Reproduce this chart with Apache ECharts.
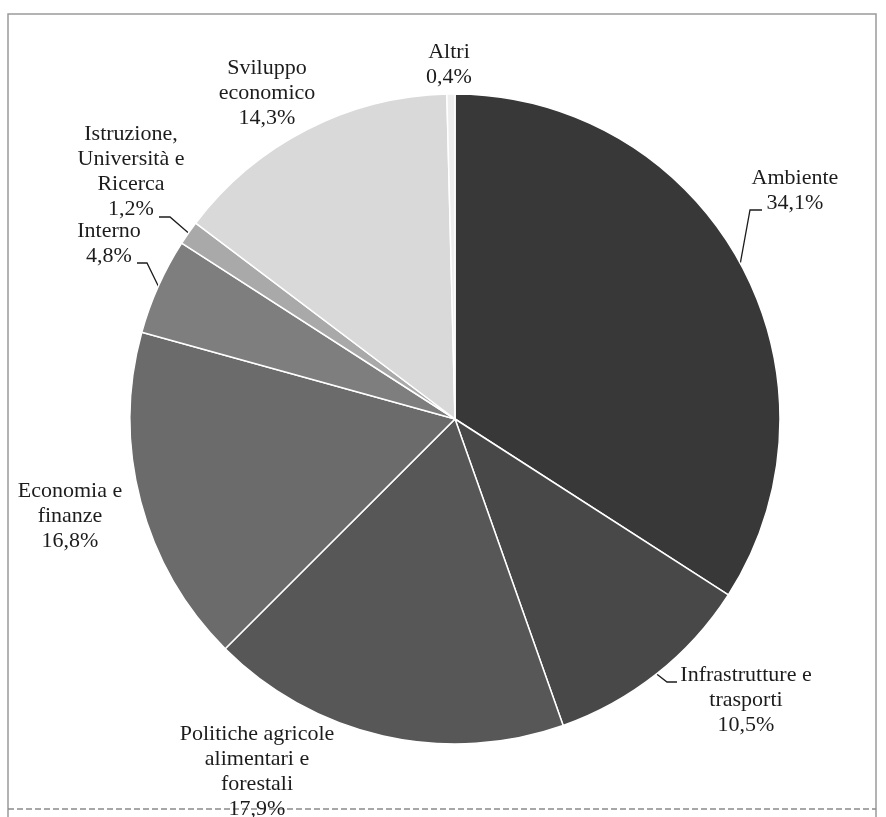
<!DOCTYPE html>
<html>
<head>
<meta charset="utf-8">
<script src="https://cdn.jsdelivr.net/npm/echarts@6/dist/echarts.min.js"></script>
<style>
  html, body { margin: 0; padding: 0; background: #fff; }
  #chart { width: 886px; height: 817px; }
</style>
</head>
<body>
<div id="chart"></div>
<script>
// data, clockwise from 12 o'clock
const categories = [
  'Ambiente',
  'Infrastrutture e\ntrasporti',
  'Politiche agricole\nalimentari e\nforestali',
  'Economia e\nfinanze',
  'Interno',
  'Istruzione,\nUniversità e\nRicerca',
  'Sviluppo\neconomico',
  'Altri'
];
const shares = [34.1, 10.5, 17.9, 16.8, 4.8, 1.2, 14.3, 0.4];
const sliceColors = ['#383838', '#484848', '#575757', '#6b6b6b', '#7e7e7e', '#a9a9a9', '#d9d9d9', '#eeeeee'];

// label anchors (centre of each text block) and leader elbows
const labelPos = [[795, 191], [746, 700], [257, 772], [70, 516], [109, 244], [131, 172], [267, 93], [449, 65]];
const leaders = {
  0: [[750, 210], [762, 210]],
  1: [[667, 682], [677, 682]],
  4: [[147, 263], [137, 263]],
  5: [[170, 217], [159, 217]]
};

const fmt = v => v.toFixed(1).replace('.', ',') + '%';

const myChart = echarts.init(document.getElementById('chart'));

const option = {
  animation: false,
  graphic: [
    {
      type: 'polyline',
      shape: { points: [[8, 820], [8, 14], [876, 14], [876, 820]] },
      style: { stroke: '#9a9a9a', lineWidth: 1.5, fill: null }
    },
    {
      type: 'line',
      shape: { x1: 8, y1: 809, x2: 876, y2: 809 },
      style: { stroke: '#8a8a8a', lineWidth: 1.5, lineDash: [6, 3] }
    }
  ],
  series: [
    {
      type: 'pie',
      center: [455, 419],
      radius: 325,
      startAngle: 90,
      clockwise: true,
      avoidLabelOverlap: false,
      itemStyle: { borderColor: '#fff', borderWidth: 1.5 },
      label: {
        show: true,
        position: 'outside',
        fontFamily: 'Liberation Serif',
        fontSize: 22,
        lineHeight: 25,
        color: '#1c1c1c',
        align: 'center',
        formatter: p => p.name + '\n' + fmt(p.value)
      },
      labelLine: {
        show: true,
        lineStyle: { color: '#1c1c1c', width: 1.3 }
      },
      labelLayout: params => {
        const i = params.dataIndex;
        const out = {
          x: labelPos[i][0],
          y: labelPos[i][1],
          align: 'center',
          verticalAlign: 'middle'
        };
        if (leaders[i] && params.labelLinePoints) {
          out.labelLinePoints = [params.labelLinePoints[0], leaders[i][0], leaders[i][1]];
        }
        return out;
      },
      emphasis: { disabled: true },
      data: categories.map((c, i) => ({
        name: c,
        value: shares[i],
        itemStyle: { color: sliceColors[i] },
        labelLine: { show: leaders[i] !== undefined }
      }))
    }
  ]
};

myChart.setOption(option);
window.addEventListener('resize', () => myChart.resize());
</script>
</body>
</html>
